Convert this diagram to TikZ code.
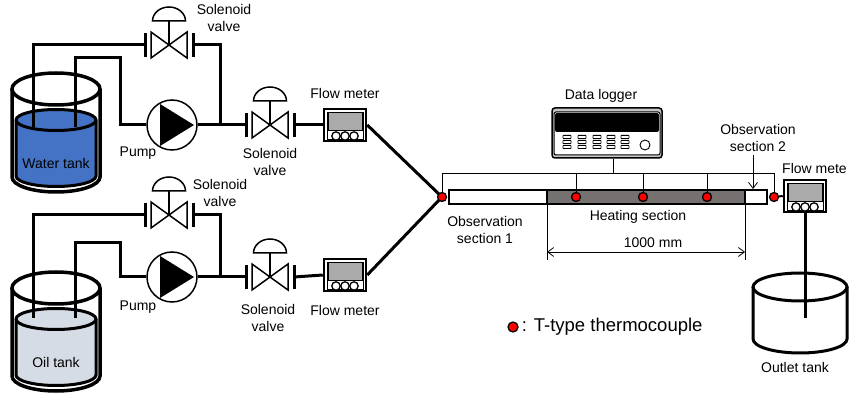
\documentclass[tikz,border=0pt]{standalone}
\usepackage{fontspec}
\setmainfont{Liberation Sans}
\usetikzlibrary{arrows.meta}

\definecolor{waterblue}{RGB}{68,114,196}
\definecolor{oilgrey}{RGB}{214,220,229}
\definecolor{heatgrey}{RGB}{118,113,113}
\definecolor{screengrey}{RGB}{170,170,170}

\tikzset{
  pipe/.style={line width=3pt},
  wire/.style={line width=0.8pt},
  lbl/.style={font=\fontsize{14}{17}\selectfont, align=center, inner sep=0pt},
  tc/.style={circle, draw, line width=1.3pt, fill=red, minimum size=9pt, inner sep=0pt},
  tube/.style={draw, line width=2.5pt, minimum height=14pt, inner sep=0pt, outer sep=0pt},
  dimtip/.tip={Straight Barb[length=6pt, width=9pt]},
  % solenoid valve, centred on the pipe
  pics/solvalve/.style={code={
    \coordinate (-l) at (-24,0);
    \coordinate (-r) at (24,0);
    \draw[line width=3pt] (-24,-12) -- (-24,12);
    \draw[line width=3pt] (24,-12) -- (24,12);
    \draw[line width=1.5pt, fill=white] (-18,-13) -- (18,13) -- (18,-13) -- (-18,13) -- cycle;
    \draw[line width=1.5pt] (0,0) -- (0,-24);
    \draw[line width=1.5pt, fill=white] (-16.5,-24)
      arc[start angle=180, end angle=0, x radius=16.5pt, y radius=14pt] -- cycle;
  }},
  % pump
  pics/pump/.style={code={
    \node[circle, draw, line width=1.5pt, fill=white, minimum size=50pt, inner sep=0pt] (-c) at (0,0) {};
    \fill (-12,-21) -- (-12,21) -- (22,0) -- cycle;
  }},
  % flow meter
  pics/flowmeter/.style={code={
    \node[draw, line width=2.5pt, fill=white, minimum width=42pt, minimum height=32pt, inner sep=0pt] (-box) at (0,0) {};
    \draw[line width=0.8pt] (-18,-13) rectangle (18,14);
    \draw[line width=1pt, fill=screengrey] (-17,-12) rectangle (17,6);
    \foreach \cx in {-9,0,9}
      \draw[line width=1.3pt, fill=white] (\cx,11) circle[radius=4.2pt];
  }},
  % tank with liquid, #1 = liquid colour
  pics/tank/.style={code={
    \draw[line width=3pt, fill=#1] (-40,31) -- (-40,87)
      arc[start angle=180, end angle=360, x radius=40pt, y radius=10.5pt] -- (40,31)
      arc[start angle=0, end angle=180, x radius=40pt, y radius=10.5pt] -- cycle;
    \draw[line width=3pt] (-40,31) arc[start angle=180, end angle=360, x radius=40pt, y radius=10.5pt];
    \draw[line width=3.5pt] (0,0) ellipse[x radius=44pt, y radius=16pt];
    \draw[line width=3.5pt] (-44,0) -- (-44,88)
      arc[start angle=180, end angle=360, x radius=44pt, y radius=15pt] -- (44,0);
  }}
}

\begin{document}
\begin{tikzpicture}[x=1pt, y=-1pt]
  \useasboundingbox (0,0) rectangle (849,403);

  % water line
  \pic (wt) at (56,89) {tank=waterblue};
  \coordinate (wd1) at (33,127);
  \coordinate (wd2) at (75,127);
  \coordinate (wb) at (120,58);
  \coordinate (wj) at (220,125);
  \pic (wv1) at (169,45) {solvalve};
  \pic (wp) at (172,125) {pump};
  \pic (wv2) at (270,125) {solvalve};
  \pic (wfm) at (345,125) {flowmeter};
  \draw[pipe] (wd1) |- (wv1-l);
  \draw[pipe] (wd2) |- (wb) |- (wp-c.west);
  \draw[pipe] (wv1-r) -| (wj);
  \draw[pipe] (wp-c.east) -- (wv2-l);
  \draw[pipe] (wv2-r) -- (wfm-box.west);

  \node[lbl] (wtl) at (56,163) {Water tank};
  \node[lbl] (wv1l) at (224,18) {Solenoid\\valve};
  \node[lbl] (wpl) at (138,153) {Pump};
  \node[lbl] (wv2l) at (270,162) {Solenoid\\valve};
  \node[lbl] (wfml) at (345,93) {Flow meter};

  % oil line
  \pic (ot) at (56,288) {tank=oilgrey};
  \coordinate (od1) at (33,318);
  \coordinate (od2) at (75,318);
  \coordinate (ob) at (120,243);
  \coordinate (oj) at (220,277);
  \pic (ov1) at (169,215) {solvalve};
  \pic (op) at (172,277) {pump};
  \pic (ov2) at (270,277) {solvalve};
  \pic (ofm) at (345,275) {flowmeter};
  \draw[pipe] (od1) |- (ov1-l);
  \draw[pipe] (od2) |- (ob) |- (op-c.west);
  \draw[pipe] (ov1-r) -| (oj);
  \draw[pipe] (op-c.east) -- (ov2-l);
  \draw[pipe] (ov2-r) -- (ofm-box.west);

  \node[lbl] (otl) at (56,362) {Oil tank};
  \node[lbl] (ov1l) at (220,193) {Solenoid\\valve};
  \node[lbl] (opl) at (138,307) {Pump};
  \node[lbl] (ov2l) at (268,318) {Solenoid\\valve};
  \node[lbl] (ofml) at (345,310) {Flow meter};

  % test section
  \node[tube, fill=white, minimum width=98pt] (obs1) at (498,197) {};
  \node[tube, fill=heatgrey, minimum width=198pt] (heat) at (646,197) {};
  \node[tube, fill=white, minimum width=22pt] (obs2) at (756,197) {};

  \coordinate (mix) at (442,197);
  \draw[pipe] (wfm-box.east) -- (mix);
  \draw[pipe] (ofm-box.east) -- (mix);

  \node[tc] (tc1) at (442,197) {};
  \node[tc] (tc2) at (576,197) {};
  \node[tc] (tc3) at (643,197) {};
  \node[tc] (tc4) at (707,197) {};
  \node[tc] (tc5) at (774,197) {};

  % data logger
  \node[draw, line width=1.5pt, rounded corners=3pt, fill=gray!45,
        minimum width=110pt, minimum height=50pt, inner sep=0pt] (logger) at (607,133) {};
  \draw[line width=1pt, rounded corners=2pt, fill=white] (554,112) rectangle (660,155);
  \fill[rounded corners=2pt] (555,113) rectangle (659,132);
  \foreach \bx in {567,582,597,611,625}
    \foreach \by in {137,142,147}
      \draw[line width=0.8pt, rounded corners=0.5pt] (\bx-4,\by-1.6) rectangle (\bx+4,\by+1.6);
  \draw[line width=0.9pt] (645,145) circle[radius=5pt];
  \node[lbl] (loggerl) at (601,96) {Data logger};

  % thermocouple wiring
  \coordinate (bus) at (0,173);
  \draw[wire] (tc1) -- (tc1 |- bus) -- (tc5 |- bus) -- (tc5);
  \foreach \t in {2,3,4}
    \draw[wire] (tc\t) -- (tc\t |- bus);
  \draw[wire] ([xshift=6pt]logger.south) -- ([xshift=6pt]logger.south |- bus);

  % section labels and dimension
  \node[lbl] (obs1l) at (485,230) {Observation\\section 1};
  \node[lbl] (heatl) at (638,217) {Heating section};
  \node[lbl] (obs2l) at (758,138) {Observation\\section 2};
  \draw[wire, -{dimtip}] ([xshift=-3pt, yshift=-3pt]obs2.north |- obs2l.south) -- ([xshift=-3pt, yshift=1pt]obs2.north);
  \draw[wire] (heat.south west) -- ([yshift=-56pt]heat.south west);
  \draw[wire] (heat.south east) -- ([yshift=-56pt]heat.south east);
  \draw[wire, {dimtip}-{dimtip}] ([yshift=-48pt]heat.south west) -- ([yshift=-48pt]heat.south east);
  \node[lbl] (diml) at (653,243) {1000 mm};

  % outlet
  \pic (xfm) at (805,196) {flowmeter};
  \draw[line width=2pt] (tc5) -- (xfm-box.west);
  \node[lbl, anchor=west] (xfml) at (782,168) {Flow mete};
  \draw[line width=3pt] (800,287) ellipse[x radius=47pt, y radius=14pt];
  \draw[line width=3pt] (753,287) -- (753,339)
    arc[start angle=180, end angle=360, x radius=47pt, y radius=14pt] -- (847,287);
  \coordinate (xd) at (805,318);
  \draw[pipe] (xfm-box.south) -- (xd);
  \node[lbl] (xtl) at (795,367) {Outlet tank};

  % legend
  \node[tc, minimum size=10pt] (leg) at (513,327) {};
  \node[lbl, font=\fontsize{18.5}{22}\selectfont, anchor=west] (legl) at ([xshift=3pt]leg.east) {: T-type thermocouple};
\end{tikzpicture}
\end{document}
